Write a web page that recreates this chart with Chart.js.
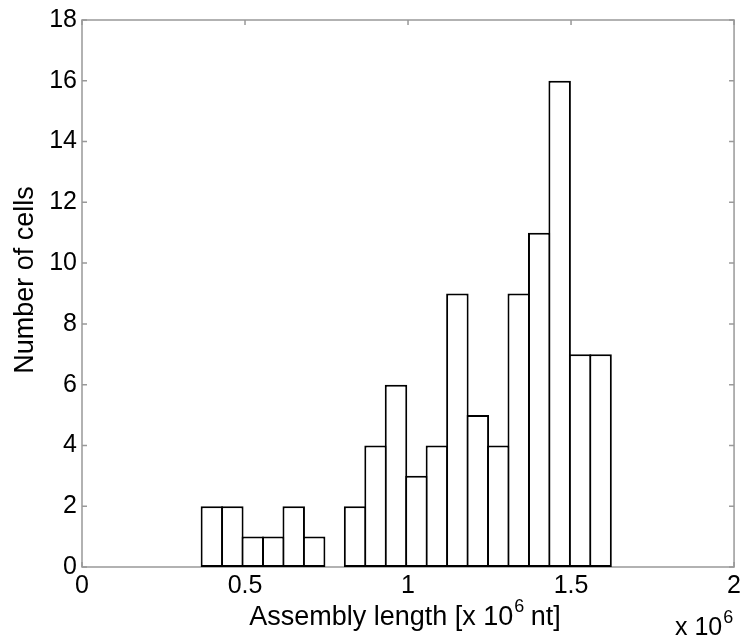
<!DOCTYPE html>
<html>
<head>
<meta charset="utf-8">
<script src="https://cdn.jsdelivr.net/npm/chart.js@4/dist/chart.umd.min.js"></script>
<style>
  html, body { margin: 0; padding: 0; background: #fff; }
  #c { display: block; }
</style>
</head>
<body>
<canvas id="c" width="745" height="639"></canvas>
<script>
// Histogram bins (x 10^6 nt) and counts
const binCenters = [0.3984, 0.4611, 0.5239, 0.5866, 0.6494, 0.7121, 0.7749, 0.8376, 0.9004, 0.9631,
                    1.0259, 1.0886, 1.1514, 1.2141, 1.2769, 1.3396, 1.4024, 1.4651, 1.5279, 1.5906];
const cellCounts = [2, 2, 1, 1, 2, 1, 0, 2, 4, 6, 3, 4, 9, 5, 4, 9, 11, 16, 7, 7];
const xTickValues = [0, 0.5, 1, 1.5, 2];
const yTickValues = [0, 2, 4, 6, 8, 10, 12, 14, 16, 18];
const xTitleMain = 'Assembly length [x 10';
const xTitleSup = '6';
const xTitleTail = ' nt]';
const yTitle = 'Number of cells';
const xMultMain = 'x 10';
const xMultSup = '6';

const FONT = "'Liberation Sans', Arial, Helvetica, sans-serif";
const FRAME = '#999999';

const framePlugin = {
  id: 'framePlugin',
  beforeDatasetsDraw(chart) {
    const { ctx, chartArea: a, scales: { x, y } } = chart;
    ctx.save();
    ctx.strokeStyle = FRAME;
    ctx.lineWidth = 1.5;
    ctx.strokeRect(a.left, a.top, a.right - a.left, a.bottom - a.top);
    const tl = 5;
    ctx.beginPath();
    yTickValues.forEach(v => {
      const py = y.getPixelForValue(v);
      ctx.moveTo(a.left, py); ctx.lineTo(a.left + tl, py);
      ctx.moveTo(a.right, py); ctx.lineTo(a.right - tl, py);
    });
    xTickValues.forEach(v => {
      const px = x.getPixelForValue(v);
      ctx.moveTo(px, a.bottom); ctx.lineTo(px, a.bottom - tl);
      ctx.moveTo(px, a.top); ctx.lineTo(px, a.top + tl);
    });
    ctx.stroke();
    ctx.restore();
  },
  afterDraw(chart) {
    const { ctx, chartArea: a } = chart;
    ctx.save();
    ctx.fillStyle = '#000';
    ctx.textBaseline = 'alphabetic';
    ctx.textAlign = 'left';
    // x axis title with superscript
    const mainFont = '27px ' + FONT;
    const supFont = '18px ' + FONT;
    ctx.font = mainFont;
    const w1 = ctx.measureText(xTitleMain).width;
    const w3 = ctx.measureText(xTitleTail).width;
    ctx.font = supFont;
    const w2 = ctx.measureText(xTitleSup).width;
    const total = w1 + w2 + w3;
    let sx = (a.left + a.right) / 2 - total / 2 - 3;
    const by = 625;
    ctx.font = mainFont;
    ctx.fillText(xTitleMain, sx, by);
    ctx.font = supFont;
    ctx.fillText(xTitleSup, sx + w1 + 1, by - 13);
    ctx.font = mainFont;
    ctx.fillText(xTitleTail, sx + w1 + w2, by);

    // y axis title
    ctx.save();
    ctx.translate(33, 280);
    ctx.rotate(-Math.PI / 2);
    ctx.textAlign = 'center';
    ctx.font = mainFont;
    ctx.fillText(yTitle, 0, 0);
    ctx.restore();

    // x 10^6 multiplier
    ctx.font = '25px ' + FONT;
    ctx.fillText(xMultMain, 675, 635);
    const wm = ctx.measureText(xMultMain).width;
    ctx.font = supFont;
    ctx.fillText(xMultSup, 675 + wm + 1, 623);
    ctx.restore();
  }
};

new Chart(document.getElementById('c'), {
  type: 'bar',
  data: {
    datasets: [{
      data: binCenters.map((x, i) => ({ x: x, y: cellCounts[i] })),
      backgroundColor: '#ffffff',
      borderColor: '#000000',
      borderWidth: 2,
      borderSkipped: false,
      barPercentage: 1.1,
      categoryPercentage: 1.0
    }]
  },
  options: {
    responsive: false,
    animation: false,
    events: [],
    layout: { padding: { top: 20, right: 9, left: 0, bottom: 0 } },
    plugins: { legend: { display: false }, tooltip: { enabled: false } },
    scales: {
      x: {
        type: 'linear',
        min: 0, max: 2,
        offset: false,
        afterBuildTicks(scale) { scale.ticks = xTickValues.map(v => ({ value: v })); },
        afterFit(scale) { scale.height = 72; },
        grid: { display: false, drawTicks: false },
        border: { display: false },
        ticks: {
          color: '#000',
          padding: 4,
          maxRotation: 0,
          font: { family: FONT, size: 25 },
          callback: v => String(v)
        }
      },
      y: {
        min: 0, max: 18,
        afterBuildTicks(scale) { scale.ticks = yTickValues.map(v => ({ value: v })); },
        afterFit(scale) { scale.width = 82; },
        grid: { display: false, drawTicks: false },
        border: { display: false },
        ticks: {
          color: '#000',
          padding: 5,
          font: { family: FONT, size: 25 },
          callback: v => String(v)
        }
      }
    }
  },
  plugins: [framePlugin]
});
</script>
</body>
</html>
